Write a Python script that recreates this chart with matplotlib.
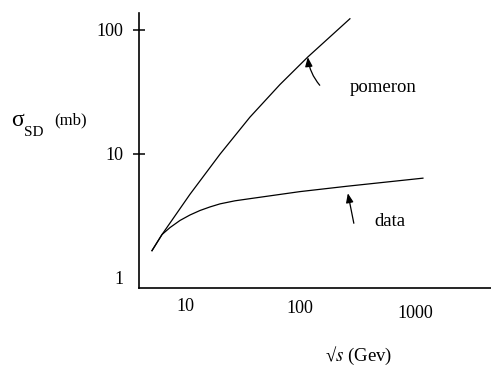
import matplotlib
matplotlib.use("Agg")
import matplotlib.pyplot as plt
import matplotlib.transforms as mtransforms

plt.rcParams["font.family"] = ["Liberation Serif", "DejaVu Serif"]
plt.rcParams["mathtext.fontset"] = "stix"

# curves (sqrt(s) in GeV, sigma_SD in mb)
pomeron_x = [5.16, 6.31, 11.05, 20.2, 36.7, 67.0, 117.4, 272]
pomeron_y = [1.66, 2.24, 4.73, 9.98, 19.8, 36.3, 60.7, 123.1]
data_x = [5.16, 6.31, 7.41, 9.05, 11.05, 13.5, 16.5, 20.2, 27.2, 36.7, 100, 256, 1174]
data_y = [1.66, 2.24, 2.55, 2.91, 3.22, 3.50, 3.74, 3.96, 4.19, 4.36, 4.97, 5.49, 6.38]

x_ticks = [10, 100, 1000]
x_labels = ["10", "100", "1000"]
y_ticks = [1, 10, 100]
y_labels = ["1", "10", "100"]

W, H = 491, 368
fig = plt.figure(figsize=(W / 100, H / 100), dpi=100)
ax = fig.add_axes([139 / W, 1 - 288 / H, 1 - 139 / W, (288 - 13) / H])

ax.plot(pomeron_x, pomeron_y, color="black", lw=0.9)
ax.plot(data_x, data_y, color="black", lw=0.9)

ax.set_xscale("log")
ax.set_yscale("log")
ax.set_xlim(3.98, 4590)
ax.set_ylim(0.83, 137)

for s in ["top", "right"]:
    ax.spines[s].set_visible(False)
for s in ["left", "bottom"]:
    ax.spines[s].set_linewidth(1.2)

ax.set_xticks(x_ticks)
ax.set_xticklabels(x_labels)
ax.set_yticks(y_ticks)
ax.set_yticklabels(y_labels)
ax.minorticks_off()
ax.tick_params(axis="x", length=0, pad=7.5, labelsize=13)
ax.tick_params(axis="y", direction="inout", length=9, width=1.1, pad=6.5, labelsize=13)
ax.yaxis.get_major_ticks()[0].tick1line.set_visible(False)

# "100" and "1000" sit a bit lower than "10"
for i, dy in [(1, 2), (2, 7)]:
    lab = ax.get_xticklabels()[i]
    lab.set_transform(lab.get_transform()
                      + mtransforms.ScaledTranslation(0, -dy / 100, fig.dpi_scale_trans))

# arrows and labels
ax.annotate("", xy=(117, 60.3), xytext=(8.6, -20.2), textcoords="offset points",
            arrowprops=dict(arrowstyle="-|>,head_length=0.55,head_width=0.22",
                            color="black", lw=0.9, shrinkA=0, shrinkB=0,
                            connectionstyle="arc3,rad=-0.15"))
ax.annotate("", xy=(261, 4.82), xytext=(4.3, -21.6), textcoords="offset points",
            arrowprops=dict(arrowstyle="-|>,head_length=0.55,head_width=0.22",
                            color="black", lw=0.9, shrinkA=0, shrinkB=0))

fig.text(383 / W, 1 - 87 / H, "pomeron", fontsize=13.5, ha="center", va="center")
fig.text(390 / W, 1 - 222 / H, "data", fontsize=13.5, ha="center", va="center")

# y axis label
fig.text(17 / W, 1 - 121 / H, "σ", fontsize=17, ha="center", va="center")
fig.text(34 / W, 1 - 132 / H, "SD", fontsize=11, ha="center", va="center")
fig.text(71 / W, 1 - 120 / H, "(mb)", fontsize=12, ha="center", va="center")

# x axis label
fig.text(359 / W, 1 - 356 / H, "√$s$ (Gev)", fontsize=13.5, ha="center", va="center")

fig.savefig("out.png", dpi=100)
